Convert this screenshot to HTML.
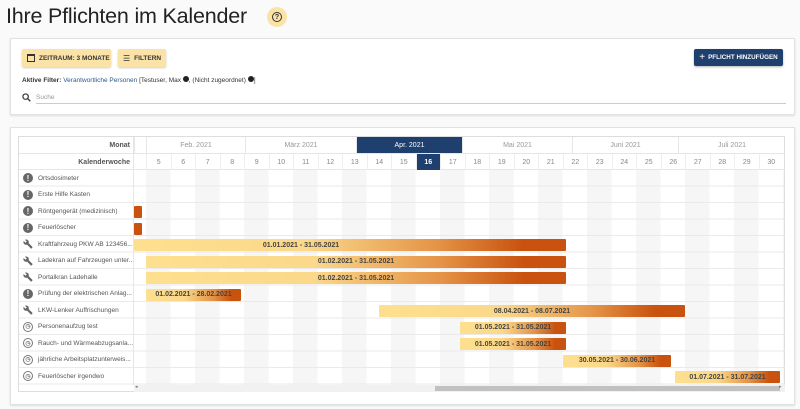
<!DOCTYPE html>
<html><head><meta charset="utf-8"><style>
*{box-sizing:border-box;margin:0;padding:0}
body{width:800px;height:409px;background:#fafafa;font-family:"Liberation Sans",sans-serif;position:relative;overflow:hidden;color:#333}
.a{position:absolute}
h1{position:absolute;left:6px;top:4px;font-size:21.5px;font-weight:400;color:#222;letter-spacing:-0.2px;white-space:nowrap}
.card{position:absolute;background:#fff;border:1px solid #e2e2e2;box-shadow:0 1px 2px rgba(0,0,0,.12)}
.btn{position:absolute;background:#fbe3a8;border-radius:2px;font-size:6.5px;font-weight:700;color:#333;box-shadow:0 1px 2px rgba(0,0,0,.2);display:flex;align-items:center;padding-left:5px;gap:4px;white-space:nowrap}
.tbl{position:absolute;left:18px;top:136px;width:767px;height:256px;border:1px solid #ddd;background:#fff}
.lbl{position:absolute;left:0;width:114px;height:16.5px;font-size:6.5px;color:#555;display:flex;align-items:center;white-space:nowrap;overflow:hidden}
.ic{flex:none;width:10px;height:10px;border-radius:50%;background:#666;color:#fff;font-size:8px;font-weight:700;display:inline-flex;align-items:center;justify-content:center;margin:0 5px 0 4px}
.ck{background:#fff;border:1.3px solid #777;color:#777;font-size:6px}
.wr{flex:none;display:inline-block;width:10px;height:10px;margin:0 5px 0 4px}
.bar{position:absolute;height:12px;border-radius:1px;font-size:7px;font-weight:700;color:#444;display:flex;align-items:center;justify-content:center;white-space:nowrap;background:linear-gradient(90deg,#fde08f 0%,#fbd88a 40%,#e49448 70%,#c9520e 90%,#c9520e 100%)}
.wk{position:absolute;top:17px;height:16px;font-size:7px;color:#888;display:flex;align-items:center;justify-content:center;width:24.5px;border-left:1px solid #eee}
.mo{position:absolute;top:0;height:17px;font-size:7px;color:#999;display:flex;align-items:center;justify-content:center;border-left:1px solid #e6e6e6;border-bottom:1px solid #e6e6e6}
</style></head><body>
<svg width="0" height="0" style="position:absolute"><symbol id="w" viewBox="0 0 24 24"><path fill="#666" d="M22.7 19l-9.1-9.1c.9-2.3.4-5-1.5-6.9-2-2-5-2.4-7.4-1.3L9 6 6 9 1.6 4.7C.4 7.1.9 10.1 2.9 12.1c1.9 1.9 4.6 2.4 6.9 1.5l9.1 9.1c.4.4 1 .4 1.4 0l2.3-2.3c.5-.4.5-1.1.1-1.4z"/></symbol></svg>
<h1>Ihre Pflichten im Kalender</h1>
<div class="a" style="left:267px;top:7px;width:20px;height:20px;border-radius:50%;background:#fbe3a8;display:flex;align-items:center;justify-content:center"><div style="width:10px;height:10px;border:1.3px solid #333;border-radius:50%;font-size:7px;font-weight:700;display:flex;align-items:center;justify-content:center">?</div></div>

<div class="card" style="left:10px;top:38px;width:785px;height:77px"></div>
<div class="btn" style="left:22px;top:49px;width:89px;height:18px"><span style="display:inline-block;width:8px;height:8px;border:1.5px solid #333;border-top-width:2.5px"></span>ZEITRAUM: 3 MONATE</div>
<div class="btn" style="left:118px;top:49px;width:48px;height:18px"><span style="font-size:8px;font-weight:400">☰</span>FILTERN</div>
<div class="a" style="left:694px;top:49px;width:89px;height:17px;background:#1f3f6e;border-radius:2px;color:#fff;font-size:6.3px;font-weight:700;display:flex;align-items:center;justify-content:center;gap:3px;white-space:nowrap;box-shadow:0 1px 2px rgba(0,0,0,.3)"><span style="font-size:10px;font-weight:400">+</span>PFLICHT HINZUFÜGEN</div>
<div class="a" style="left:22px;top:76px;font-size:6.5px;color:#333;white-space:nowrap"><b>Aktive Filter:</b> <span style="color:#2c5a8c">Verantwortliche Personen</span> [Testuser, Max <span style="display:inline-block;width:6px;height:6px;border-radius:50%;background:#222"></span>, (Nicht zugeordnet) <span style="display:inline-block;width:6px;height:6px;border-radius:50%;background:#222"></span>]</div>
<svg class="a" style="left:22px;top:93px" width="9" height="9" viewBox="0 0 10 10"><circle cx="4" cy="4" r="3" fill="none" stroke="#333" stroke-width="1.3"/><line x1="6.2" y1="6.2" x2="9.2" y2="9.2" stroke="#333" stroke-width="1.5"/></svg>
<div class="a" style="left:36px;top:94px;font-size:6.5px;color:#999">Suche</div>
<div class="a" style="left:36px;top:103px;width:750px;height:1px;background:#ccc"></div>

<div class="card" style="left:10px;top:127px;width:785px;height:278px"></div>
<div class="tbl">
 <div class="a" style="left:127px;top:33px;width:638px;height:215px;background:repeating-linear-gradient(90deg,#f6f6f6 0,#f6f6f6 24.5px,#fff 24.5px,#fff 49px)"></div>
 <div class="a" style="left:0;top:0;width:115px;height:17px;font-size:7px;font-weight:700;color:#555;text-align:right;padding:5px 3px 0 0;border-bottom:1px solid #e6e6e6;border-right:1px solid #e6e6e6">Monat</div>
 <div class="a" style="left:0;top:17px;width:115px;height:16px;font-size:7px;font-weight:700;color:#555;text-align:right;padding:5px 3px 0 0;border-bottom:1px solid #e6e6e6;border-right:1px solid #e6e6e6">Kalenderwoche</div>
 <div class="a" style="left:115px;top:17px;width:651px;height:16px;border-bottom:1px solid #e6e6e6"></div>
 <div class="mo" style="left:115px;width:12px"></div>
 <div class="mo" style="left:127px;width:99px">Feb. 2021</div>
 <div class="mo" style="left:226px;width:111px">März 2021</div>
 <div class="mo" style="left:337px;width:106px;background:#1f3f6e;color:#fff">Apr. 2021</div>
 <div class="mo" style="left:443px;width:110px">Mai 2021</div>
 <div class="mo" style="left:553px;width:106px">Juni 2021</div>
 <div class="mo" style="left:659px;width:107px">Juli 2021</div>
 <div class="wk" style="left:127px">5</div><div class="wk" style="left:151.5px">6</div><div class="wk" style="left:176px">7</div><div class="wk" style="left:200.5px">8</div><div class="wk" style="left:225px">9</div><div class="wk" style="left:249.5px">10</div><div class="wk" style="left:274px">11</div><div class="wk" style="left:298.5px">12</div><div class="wk" style="left:323px">13</div><div class="wk" style="left:347.5px">14</div><div class="wk" style="left:372px">15</div><div class="wk" style="left:396.5px;background:#1f3f6e;color:#fff;font-weight:700">16</div><div class="wk" style="left:421px">17</div><div class="wk" style="left:445.5px">18</div><div class="wk" style="left:470px">19</div><div class="wk" style="left:494.5px">20</div><div class="wk" style="left:519px">21</div><div class="wk" style="left:543.5px">22</div><div class="wk" style="left:568px">23</div><div class="wk" style="left:592.5px">24</div><div class="wk" style="left:617px">25</div><div class="wk" style="left:641.5px">26</div><div class="wk" style="left:666px">27</div><div class="wk" style="left:690.5px">28</div><div class="wk" style="left:715px">29</div><div class="wk" style="left:739.5px">30</div>

 <div class="a" style="left:0;top:33px;width:766px;height:215px;background:repeating-linear-gradient(180deg,transparent 0,transparent 15.5px,#eaeaea 15.5px,#eaeaea 16.5px)"></div>
 <div class="a" style="left:114px;top:0;width:1px;height:248px;background:#e6e6e6"></div>

 <div class="lbl" style="top:33px"><span class="ic">!</span>Ortsdosimeter</div>
 <div class="lbl" style="top:49.5px"><span class="ic">!</span>Erste Hilfe Kasten</div>
 <div class="lbl" style="top:66px"><span class="ic">!</span>Röntgengerät (medizinisch)</div>
 <div class="lbl" style="top:82.5px"><span class="ic">!</span>Feuerlöscher</div>
 <div class="lbl" style="top:99px"><svg class="wr"><use href="#w"/></svg>Kraftfahrzeug PKW AB 123456...</div>
 <div class="lbl" style="top:115.5px"><svg class="wr"><use href="#w"/></svg>Ladekran auf Fahrzeugen unter...</div>
 <div class="lbl" style="top:132px"><svg class="wr"><use href="#w"/></svg>Portalkran Ladehalle</div>
 <div class="lbl" style="top:148.5px"><span class="ic">!</span>Prüfung der elektrischen Anlag...</div>
 <div class="lbl" style="top:165px"><svg class="wr"><use href="#w"/></svg>LKW-Lenker Auffrischungen</div>
 <div class="lbl" style="top:181.5px"><span class="ic ck">◷</span>Personenaufzug test</div>
 <div class="lbl" style="top:198px"><span class="ic ck">◷</span>Rauch- und Wärmeabzugsanla...</div>
 <div class="lbl" style="top:214.5px"><span class="ic ck">◷</span>jährliche Arbeitsplatzunterweis...</div>
 <div class="lbl" style="top:231px"><span class="ic ck">◷</span>Feuerlöscher irgendwo</div>

 <div class="bar" style="left:115px;top:69px;width:8px;background:#c9520e"></div>
 <div class="bar" style="left:115px;top:85.5px;width:8px;background:#c9520e"></div>
 <div class="bar" style="left:115px;top:102px;width:432px;padding-right:98px">01.01.2021 - 31.05.2021</div>
 <div class="bar" style="left:127px;top:118.5px;width:420px">01.02.2021 - 31.05.2021</div>
 <div class="bar" style="left:127px;top:135px;width:420px">01.02.2021 - 31.05.2021</div>
 <div class="bar" style="left:127px;top:151.5px;width:95px">01.02.2021 - 28.02.2021</div>
 <div class="bar" style="left:360px;top:168px;width:306px">08.04.2021 - 08.07.2021</div>
 <div class="bar" style="left:441px;top:184.5px;width:106px">01.05.2021 - 31.05.2021</div>
 <div class="bar" style="left:441px;top:201px;width:106px">01.05.2021 - 31.05.2021</div>
 <div class="bar" style="left:544px;top:217.5px;width:108px">30.05.2021 - 30.06.2021</div>
 <div class="bar" style="left:656px;top:234px;width:105px">01.07.2021 - 31.07.2021</div>

 <div class="a" style="left:115px;top:248px;width:651px;height:7px;background:#f1f1f1"></div>
 <div class="a" style="left:416px;top:249px;width:345px;height:5px;background:#c1c1c1"></div>
 <div class="a" style="left:116px;top:247px;font-size:5px;color:#777">◂</div>
 <div class="a" style="left:760px;top:247px;font-size:5px;color:#777">▸</div>
</div>
</body></html>
